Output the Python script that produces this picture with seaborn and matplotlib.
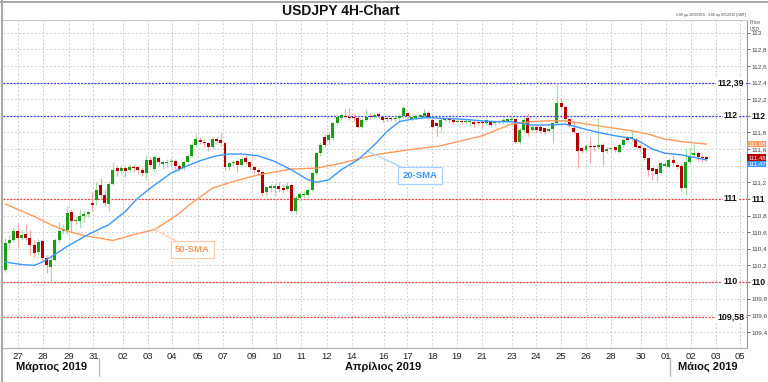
import matplotlib
matplotlib.use("Agg")
import matplotlib.pyplot as plt
import matplotlib.lines as mlines
import numpy as np
import pandas as pd
import seaborn as sns

# USDJPY 4H candles (26 Mar - 2 May 2019)
opens = [110.14, 110.47, 110.51, 110.61, 110.53, 110.58, 110.53, 110.44, 110.36, 110.49,
         110.29, 110.18, 110.27, 110.51, 110.61, 110.62, 110.84, 110.74, 110.74, 110.80,
         110.82, 110.95, 110.99, 111.17, 111.05, 110.94, 111.18, 111.37, 111.33, 111.37,
         111.35, 111.39, 111.38, 111.35, 111.31, 111.47, 111.36, 111.49, 111.42, 111.43,
         111.45, 111.46, 111.40, 111.37, 111.45, 111.52, 111.65, 111.71, 111.69, 111.67,
         111.63, 111.72, 111.71, 111.67, 111.39, 111.43, 111.46, 111.41, 111.49, 111.44,
         111.39, 111.35, 111.32, 111.08, 111.13, 111.13, 111.16, 111.13, 111.12, 111.17,
         110.85, 111.01, 111.05, 111.05, 111.11, 111.31, 111.55, 111.75, 111.71, 111.73,
         111.91, 111.98, 112.00, 111.99, 111.99, 111.98, 111.87, 111.95, 112.00, 111.99,
         112.02, 111.99, 111.98, 111.97, 111.96, 111.98, 112.00, 112.03, 111.96, 111.98,
         111.99, 112.00, 112.04, 111.95, 111.91, 111.87, 111.95, 111.96, 111.95, 111.93,
         111.94, 111.92, 111.92, 111.93, 111.93, 111.92, 111.91, 111.93, 111.91, 111.92,
         111.92, 111.94, 111.95, 111.96, 111.69, 111.83, 111.97, 111.83, 111.87, 111.87,
         111.85, 111.82, 111.84, 111.91, 112.16, 112.11, 111.96, 111.85, 111.79, 111.61,
         111.59, 111.63, 111.63, 111.63, 111.65, 111.58, 111.60, 111.62, 111.57, 111.65,
         111.74, 111.72, 111.72, 111.64, 111.61, 111.49, 111.37, 111.36, 111.31, 111.40,
         111.39, 111.47, 111.41, 111.40, 111.13, 111.45, 111.53, 111.55, 111.51, 111.50]
highs = [110.53, 110.57, 110.66, 110.70, 110.62, 110.70, 110.62, 110.50, 110.52, 110.51,
         110.33, 110.33, 110.53, 110.72, 110.70, 110.92, 110.88, 110.80, 110.88, 110.86,
         110.86, 111.08, 111.20, 111.25, 111.12, 111.20, 111.45, 111.40, 111.41, 111.40,
         111.42, 111.42, 111.40, 111.37, 111.53, 111.51, 111.53, 111.52, 111.47, 111.48,
         111.49, 111.48, 111.42, 111.47, 111.54, 111.68, 111.79, 111.74, 111.72, 111.69,
         111.74, 111.75, 111.79, 111.69, 111.45, 111.47, 111.48, 111.51, 111.53, 111.46,
         111.41, 111.37, 111.34, 111.16, 111.18, 111.19, 111.20, 111.18, 111.20, 111.18,
         111.03, 111.08, 111.10, 111.13, 111.33, 111.57, 111.68, 111.78, 111.80, 111.93,
         112.01, 112.03, 112.08, 112.10, 112.04, 112.00, 111.97, 112.08, 112.03, 112.03,
         112.05, 112.01, 112.00, 111.99, 112.00, 112.02, 112.12, 112.05, 112.01, 112.02,
         112.02, 112.08, 112.06, 111.97, 111.93, 111.97, 111.98, 111.98, 111.97, 111.96,
         111.95, 111.95, 111.95, 111.95, 111.94, 111.94, 111.97, 111.95, 111.95, 111.95,
         111.97, 111.98, 111.99, 111.98, 111.85, 111.97, 112.03, 111.89, 111.90, 111.89,
         111.87, 111.86, 111.93, 112.39, 112.22, 112.13, 111.98, 111.92, 111.81, 111.63,
         111.66, 111.75, 111.65, 111.98, 111.67, 111.62, 111.63, 111.64, 111.67, 111.73,
         111.76, 111.82, 111.74, 111.66, 111.63, 111.51, 111.39, 111.38, 111.45, 111.45,
         111.49, 111.53, 111.43, 111.42, 111.61, 111.62, 111.66, 111.58, 111.53, 111.52]
lows = [110.12, 110.40, 110.48, 110.41, 110.50, 110.50, 110.33, 110.30, 110.33, 110.27,
        110.11, 110.00, 110.25, 110.48, 110.58, 110.58, 110.60, 110.70, 110.65, 110.72,
        110.78, 110.85, 110.93, 111.00, 110.92, 110.86, 111.17, 111.28, 111.30, 111.26,
        111.32, 111.32, 111.30, 111.27, 111.23, 111.38, 111.34, 111.40, 111.36, 111.38,
        111.38, 111.35, 111.33, 111.35, 111.43, 111.50, 111.63, 111.66, 111.62, 111.58,
        111.60, 111.66, 111.64, 111.35, 111.35, 111.40, 111.32, 111.40, 111.42, 111.35,
        111.31, 111.29, 111.04, 111.03, 111.08, 111.05, 111.08, 111.07, 111.10, 110.84,
        110.82, 110.97, 111.02, 111.02, 111.09, 111.29, 111.52, 111.62, 111.65, 111.71,
        111.89, 111.96, 111.97, 111.95, 111.94, 111.85, 111.85, 111.93, 111.96, 111.96,
        111.97, 111.93, 111.93, 111.94, 111.94, 111.95, 111.98, 111.98, 111.94, 111.96,
        111.97, 111.98, 111.96, 111.85, 111.76, 111.80, 111.93, 111.93, 111.90, 111.91,
        111.90, 111.90, 111.88, 111.86, 111.89, 111.85, 111.89, 111.87, 111.89, 111.90,
        111.90, 111.92, 111.93, 111.67, 111.66, 111.81, 111.76, 111.80, 111.80, 111.79,
        111.78, 111.80, 111.67, 111.89, 112.08, 111.93, 111.86, 111.78, 111.37, 111.55,
        111.57, 111.43, 111.58, 111.60, 111.41, 111.55, 111.58, 111.57, 111.55, 111.63,
        111.69, 111.70, 111.61, 111.58, 111.47, 111.28, 111.23, 111.22, 111.29, 111.38,
        111.37, 111.41, 111.36, 111.10, 111.03, 111.42, 111.50, 111.46, 111.45, 111.46]
closes = [110.47, 110.51, 110.61, 110.53, 110.57, 110.53, 110.44, 110.35, 110.48, 110.29,
          110.20, 110.27, 110.51, 110.61, 110.64, 110.83, 110.73, 110.75, 110.80, 110.82,
          110.84, 110.93, 111.11, 111.05, 110.95, 111.18, 111.35, 111.33, 111.37, 111.33,
          111.38, 111.37, 111.35, 111.31, 111.47, 111.41, 111.50, 111.44, 111.44, 111.45,
          111.46, 111.40, 111.36, 111.45, 111.52, 111.65, 111.72, 111.69, 111.67, 111.62,
          111.72, 111.70, 111.67, 111.38, 111.43, 111.44, 111.41, 111.48, 111.44, 111.38,
          111.35, 111.32, 111.07, 111.14, 111.15, 111.16, 111.12, 111.11, 111.15, 110.86,
          111.01, 111.06, 111.06, 111.11, 111.31, 111.55, 111.65, 111.65, 111.77, 111.91,
          111.99, 112.01, 111.99, 111.98, 111.98, 111.87, 111.95, 111.99, 111.99, 112.01,
          112.00, 111.95, 111.96, 111.96, 111.98, 112.00, 112.10, 112.00, 111.99, 112.00,
          112.01, 112.04, 111.98, 111.87, 111.88, 111.95, 111.96, 111.95, 111.93, 111.94,
          111.93, 111.93, 111.93, 111.90, 111.91, 111.91, 111.95, 111.89, 111.93, 111.93,
          111.95, 111.96, 111.96, 111.69, 111.83, 111.95, 111.79, 111.87, 111.83, 111.82,
          111.81, 111.84, 111.91, 112.16, 112.11, 111.96, 111.89, 111.80, 111.58, 111.58,
          111.64, 111.62, 111.62, 111.65, 111.56, 111.60, 111.61, 111.59, 111.65, 111.71,
          111.71, 111.74, 111.63, 111.61, 111.49, 111.35, 111.34, 111.30, 111.43, 111.42,
          111.47, 111.43, 111.38, 111.13, 111.45, 111.52, 111.55, 111.51, 111.49, 111.48]

# moving averages, sampled along the drawn lines (bar index, price)
sma20_bar = [0, 4, 7, 9, 12, 15, 20, 25, 29, 32, 35, 40, 44, 47, 51, 54, 57, 61, 65, 69,
             73, 75, 78, 81, 85, 89, 92, 95, 98, 102, 105, 110, 115, 118, 122, 127, 131, 135, 139, 143,
             147, 151, 153, 156, 159, 163, 166, 169]
sma20 = [110.24, 110.21, 110.20, 110.24, 110.33, 110.43, 110.57, 110.69, 110.85, 111.01,
         111.13, 111.31, 111.40, 111.46, 111.52, 111.54, 111.54, 111.52, 111.45, 111.35,
         111.23, 111.20, 111.23, 111.35, 111.47, 111.65, 111.81, 111.93, 111.96, 111.98,
         111.97, 111.96, 111.94, 111.93, 111.93, 111.89, 111.89, 111.90, 111.85, 111.80,
         111.76, 111.73, 111.69, 111.60, 111.55, 111.53, 111.50, 111.47]
sma50_bar = [0, 7, 11, 15, 20, 26, 31, 36, 41, 45, 50, 55, 61, 69, 75, 81, 89, 97, 105, 115,
             119, 122, 127, 131, 135, 139, 143, 147, 151, 155, 159, 163, 167, 169]
sma50 = [110.94, 110.79, 110.69, 110.61, 110.55, 110.50, 110.57, 110.63, 110.79, 110.95,
         111.13, 111.21, 111.29, 111.36, 111.37, 111.43, 111.53, 111.59, 111.64, 111.76,
         111.84, 111.90, 111.93, 111.94, 111.94, 111.91, 111.88, 111.85, 111.82, 111.78,
         111.72, 111.69, 111.67, 111.66]

day_ticks = [3.2, 9.2, 15.3, 21.3, 28.4, 34.4, 40.3, 46.4, 52.5, 59.4, 65.3, 71.3, 77.5, 83.5,
             91.2, 96.9, 102.9, 108.9, 114.9, 122.2, 127.9, 134.0, 140.0, 146.0, 153.2, 159.2,
             165.2, 171.3, 177.1]
day_labels = ['27', '28', '29', '31', '02', '03', '04', '05', '07', '09', '10', '11', '12', '14',
              '16', '17', '18', '19', '21', '23', '24', '25', '26', '28', '30', '01', '02', '03', '05']
months = ['Μάρτιος 2019', 'Απρίλιος 2019', 'Μάιος 2019']

levels = [112.39, 112.0, 111.0, 110.0, 109.58]
level_labels = ['112,39', '112', '111', '110', '109,58']
level_colors = ['#3a3aff', '#3a3aff', '#ff3a3a', '#ff3a3a', '#ff3a3a']

price_ticks = [109.4, 109.6, 109.8, 110.0, 110.2, 110.4, 110.6, 110.8, 111.0, 111.2, 111.4,
               111.6, 111.8, 112.0, 112.2, 112.4, 112.6, 112.8, 113.0]

sns.set_style("white")
plt.rcParams['font.family'] = ['Liberation Sans', 'DejaVu Sans']

df = pd.DataFrame({'open': opens, 'high': highs, 'low': lows, 'close': closes})
df['bar'] = np.arange(len(df))
up = df['close'] >= df['open']

W, H = 768, 382
fig = plt.figure(figsize=(W / 100, H / 100), dpi=100)
ax = fig.add_axes([3 / W, 1 - 348 / H, 744 / W, 328.5 / H])

# candles
wick_col = np.where(up, '#a6dea6', '#f2a9a9')
body_col = np.where(up, '#1a9e1a', '#b40000')
ax.vlines(df['bar'], df['low'], df['high'], colors=wick_col, lw=0.9, zorder=3)
body = (df['close'] - df['open']).abs().clip(lower=0.012)
ax.bar(df['bar'], body, bottom=df[['open', 'close']].min(axis=1), width=0.72,
       color=body_col, linewidth=0, zorder=4)

# moving averages
sns.lineplot(x=sma50_bar, y=sma50, color='#ff9a5c', lw=1.0, ax=ax, zorder=5)
sns.lineplot(x=sma20_bar, y=sma20, color='#3b96ff', lw=1.0, ax=ax, zorder=6)

# horizontal levels
for lv, lab, c in zip(levels, level_labels, level_colors):
    ax.axhline(lv, color=c, lw=0.9, linestyle=(0, (1.5, 1.2)), zorder=2)
    ax.text(0.978, lv, lab, transform=ax.get_yaxis_transform(), ha='center', va='center',
            fontsize=6.4, fontweight='bold', color='#111111', zorder=7,
            bbox=dict(facecolor='white', edgecolor='none', pad=0.8))

ax.annotate('20-SMA', xy=(87.5, 111.57), xytext=(100.0, 111.28), fontsize=6.8,
            fontweight='bold', color='#3b96ff', ha='center', va='center', zorder=8,
            bbox=dict(boxstyle='square,pad=0.45', facecolor='white', edgecolor='#a8d0ff', lw=0.9),
            arrowprops=dict(arrowstyle='-', color='#a8d0ff', lw=0.9, shrinkA=0, shrinkB=0))
ax.annotate('50-SMA', xy=(36.1, 110.63), xytext=(45.1, 110.39), fontsize=6.8,
            fontweight='bold', color='#ff9a5c', ha='center', va='center', zorder=8,
            bbox=dict(boxstyle='square,pad=0.45', facecolor='white', edgecolor='#ffcaa8', lw=0.9),
            arrowprops=dict(arrowstyle='-', color='#ffcaa8', lw=0.9, shrinkA=0, shrinkB=0))

ax.set_xlim(-0.5, 178.8)
ax.set_ylim(109.205, 113.16)
ax.set_xticks(day_ticks)
ax.set_xticklabels(day_labels)
ax.set_yticks(price_ticks)
# the 111,4 label sits under the last-value tags, as on the original
ax.set_yticklabels(['' if v == 111.4 else (f'{v:.1f}'.replace('.', ',') if v % 1 else f'{v:.0f}')
                    for v in price_ticks])
ax.yaxis.tick_right()
ax.tick_params(axis='y', labelsize=4.6, length=2.5, width=0.6, pad=1, colors='#555555',
               labelcolor='#444444')
ax.tick_params(axis='x', labelsize=6.8, length=0, pad=3, labelcolor='#222222')
for t, v in zip(ax.get_yticklabels(), price_ticks):
    if v in (110.0, 111.0, 112.0):
        t.set_fontsize(6.2)
        t.set_fontweight('bold')
        t.set_color('#111111')

ax.grid(True, color='#cfcfcf', linestyle=(0, (2, 2)), lw=0.7, zorder=0)
ax.set_xlabel('')
ax.set_ylabel('')
ax.spines['left'].set_visible(False)
ax.spines['top'].set_color('#c8c8c8')
ax.spines['right'].set_color('#9a9a9a')
ax.spines['bottom'].set_color('#b0b0b0')
for s in ax.spines.values():
    s.set_linewidth(0.8)

# last-value tags on the price axis
for val, lab, c in [(111.66, '111,66', '#ff9a5c'), (111.50, '111,48', '#b40000'),
                    (111.42, '111,47', '#3b96ff')]:
    ax.text(1.0015, val, lab, transform=ax.get_yaxis_transform(), ha='left', va='center',
            fontsize=4.2, color='white', zorder=9, clip_on=False,
            bbox=dict(facecolor=c, edgecolor='none', pad=0.45))

# frame, title and captions
fig.add_artist(mlines.Line2D([1.5 / W, 1.5 / W], [0, 1], color='#999999', lw=1.2))
fig.add_artist(mlines.Line2D([0, 1], [1 - 1.5 / H, 1 - 1.5 / H], color='#999999', lw=1.2))
fig.text(341 / W, 1 - 11 / H, 'USDJPY 4H-Chart', ha='center', va='center', fontsize=10,
         fontweight='bold', color='#111111')
fig.text(746 / W, 1 - 15 / H, '1:00 μμ 26/3/2019 - 3:00 πμ 6/5/2019 (GMT)', ha='right',
         va='center', fontsize=2.5, color='#444444')
fig.text(750 / W, 1 - 26 / H, 'Price\nUSD', ha='left', va='center', fontsize=3.4,
         color='#555555', linespacing=1.3)

for cx, lab in zip([52, 383, 708], months):
    fig.text(cx / W, 1 - 367 / H, lab, ha='center', va='center', fontsize=8,
             fontweight='bold', color='#111111')
for sx in [99, 670]:
    fig.add_artist(mlines.Line2D([sx / W, sx / W], [1 - 376 / H, 1 - 358 / H],
                                 color='#bbbbbb', lw=1.0))

fig.savefig('out.png', dpi=100)
